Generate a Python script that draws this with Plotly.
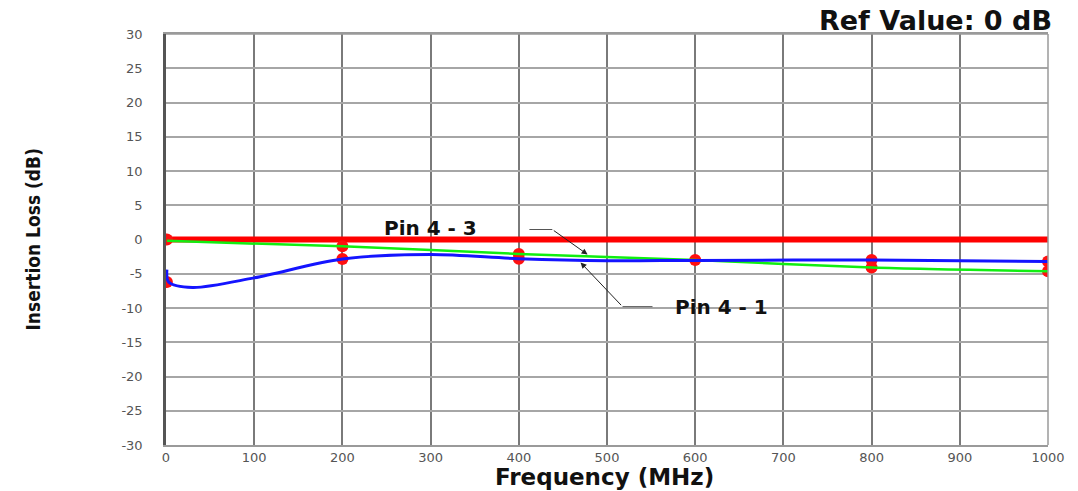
import plotly.graph_objects as go

# Frequency sweep (MHz) and insertion loss (dB)
ref_freq = [1, 1000]
ref_loss = [0, 0]

pin43_freq = [1, 200, 400, 600, 800, 1000]
pin43_loss = [-0.2, -1.0, -2.1, -3.0, -4.1, -4.65]

pin41_freq = [1, 3, 30, 100, 200, 300, 400, 500, 600, 800, 1000]
pin41_loss = [-4.4, -6.2, -7.0, -5.6, -2.85, -2.2, -2.8, -3.1, -3.05, -3.0, -3.2]

# Measured points marked on the curves
marker_freq = [1, 1, 200, 200, 400, 400, 600, 800, 800, 1000, 1000]
marker_loss = [0, -6.2, -1.0, -2.85, -2.1, -2.8, -3.0, -3.0, -4.1, -3.2, -4.65]

x_ticks = [0, 100, 200, 300, 400, 500, 600, 700, 800, 900, 1000]
y_ticks = [30, 25, 20, 15, 10, 5, 0, -5, -10, -15, -20, -25, -30]

fig = go.Figure()

fig.add_trace(go.Scatter(x=ref_freq, y=ref_loss, mode="lines",
                         line=dict(color="#ff0000", width=6), hoverinfo="skip"))
fig.add_trace(go.Scatter(x=marker_freq, y=marker_loss, mode="markers",
                         marker=dict(color="#ff1010", size=12, line=dict(width=0)),
                         hoverinfo="skip"))
fig.add_trace(go.Scatter(x=pin43_freq, y=pin43_loss, mode="lines",
                         line=dict(color="#11ee11", width=2.5, shape="spline", smoothing=0.8)))
fig.add_trace(go.Scatter(x=pin41_freq, y=pin41_loss, mode="lines",
                         line=dict(color="#1414ff", width=3, shape="spline", smoothing=0.9)))

label_font = dict(family="DejaVu Sans", size=20, color="#111111", weight="bold")

# Leader for "Pin 4 - 3": short horizontal run, then an arrow down to the curve
fig.add_shape(type="line", x0=412, y0=1.46, x1=438, y1=1.46, xref="x", yref="y",
              line=dict(color="#555555", width=1))
fig.add_annotation(x=478, y=-2.2, ax=438, ay=1.46, axref="x", ayref="y",
                   text="", showarrow=True, arrowhead=2, arrowsize=1.2,
                   arrowwidth=1, arrowcolor="#222222")
fig.add_annotation(x=300, y=1.75, text="Pin 4 - 3", showarrow=False, font=label_font)

# Leader for "Pin 4 - 1"
fig.add_shape(type="line", x0=517.6, y0=-9.8, x1=551.6, y1=-9.8, xref="x", yref="y",
              line=dict(color="#555555", width=1))
fig.add_annotation(x=470, y=-3.35, ax=517.6, ay=-9.8, axref="x", ayref="y",
                   text="", showarrow=True, arrowhead=2, arrowsize=1.2,
                   arrowwidth=1, arrowcolor="#222222")
fig.add_annotation(x=630, y=-9.8, text="Pin 4 - 1", showarrow=False, font=label_font)

# Titles
fig.add_annotation(xref="paper", yref="paper", x=1.0, y=1.0, xanchor="right", yanchor="bottom",
                   xshift=6, yshift=-4, text="Ref Value: 0 dB", showarrow=False,
                   font=dict(family="DejaVu Sans", size=27, color="#111111", weight="bold"))
fig.add_annotation(xref="paper", yref="paper", x=0.5, y=0, xanchor="center", yanchor="top",
                   yshift=-17, xshift=-3, text="Frequency (MHz)", showarrow=False,
                   font=dict(family="DejaVu Sans", size=23, color="#111111", weight="bold"))
fig.add_annotation(xref="paper", yref="paper", x=0, y=0.5, xanchor="center", yanchor="middle",
                   xshift=-134, text="Insertion Loss (dB)", showarrow=False, textangle=-90,
                   font=dict(family="DejaVu Sans Condensed, DejaVu Sans",
                             size=19, color="#111111", weight="bold"))

tick_font = dict(family="DejaVu Sans", size=13, color="#555555")

fig.update_xaxes(range=[0, 1000], tickvals=x_ticks, ticktext=[str(v) for v in x_ticks],
                 showgrid=True, gridcolor="#7a7a7a", gridwidth=2,
                 showline=True, linecolor="#9a9a9a", linewidth=1.5, mirror=True,
                 zeroline=False, ticks="", tickfont=tick_font, ticklabelstandoff=0)
fig.update_yaxes(range=[-30, 30], tickvals=y_ticks, ticktext=[str(v) for v in y_ticks],
                 showgrid=True, gridcolor="#a6a6a6", gridwidth=1.5,
                 showline=True, linecolor="#555555", linewidth=2.5, mirror=False,
                 zeroline=False, ticks="", tickfont=tick_font, ticklabelstandoff=18)

# Right and top frame lines
fig.add_shape(type="line", xref="paper", yref="paper", x0=1, x1=1, y0=0, y1=1,
              line=dict(color="#9a9a9a", width=1.5))
fig.add_shape(type="line", xref="paper", yref="paper", x0=0, x1=1, y0=1, y1=1,
              line=dict(color="#9a9a9a", width=1.5))

fig.update_layout(width=1078, height=491, showlegend=False,
                  paper_bgcolor="white", plot_bgcolor="white",
                  margin=dict(l=166, r=30, t=34, b=46))

fig.write_html("out.html")
